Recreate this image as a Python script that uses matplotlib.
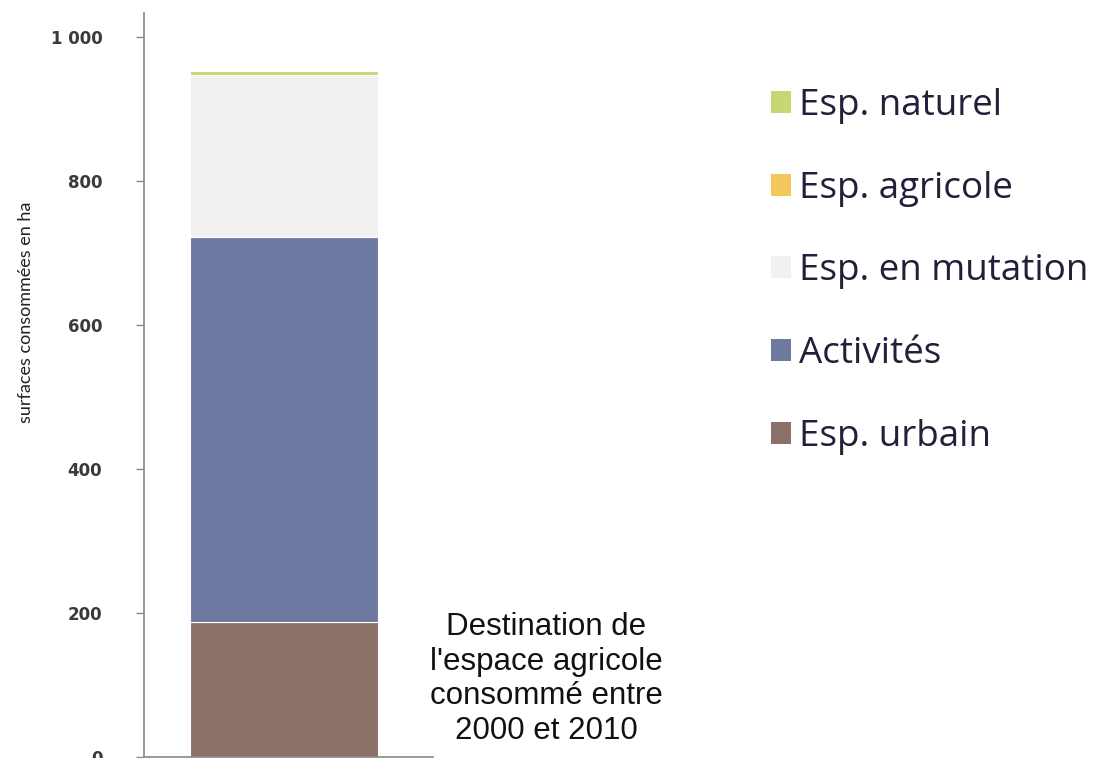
import numpy as np
import matplotlib.pyplot as plt
from matplotlib.patches import Patch

# surfaces agricoles consommées 2000-2010, par destination (ha)
categories = ["Esp. urbain", "Activités", "Esp. en mutation", "Esp. agricole", "Esp. naturel"]
surfaces = [188, 534, 225, 0, 6]
couleurs = ["#8b7268", "#6e79a1", "#f1f1f1", "#f2c75c", "#c6d774"]

yticks = [0, 200, 400, 600, 800, 1000]
ytick_labels = ["0", "200", "400", "600", "800", "1 000"]

fig = plt.figure(figsize=(11.08, 7.58), dpi=100)
ax = fig.add_axes([144/1108, 1/758, (433-144)/1108, (757-13)/758])

bas = 0
for cat, val, col in zip(categories, surfaces, couleurs):
    ax.bar(0.485, val, width=0.65, bottom=bas, color=col,
           edgecolor="white", linewidth=0.8, label=cat)
    bas += val

ax.set_xlim(0, 1)
ax.set_ylim(0, 1033)
ax.set_xticks([])
ax.set_yticks(yticks)
ax.set_yticklabels(ytick_labels, fontsize=12, fontweight="bold", color="#3a3a3a",
                   family="DejaVu Sans")
ax.tick_params(axis="y", length=6, width=1, color="#888888", pad=24)
for side in ["top", "right"]:
    ax.spines[side].set_visible(False)
for side in ["left", "bottom"]:
    ax.spines[side].set_color("#888888")
    ax.spines[side].set_linewidth(1.2)

fig.text(26/1108, 1 - 312/758, "surfaces consommées en ha", rotation=90,
         ha="center", va="center", fontsize=13, family="Lato", color="#222222")

fig.text(546/1108, 1 - 679/758,
         "Destination de\nl'espace agricole\nconsommé entre\n2000 et 2010",
         ha="center", va="center", fontsize=22.5, family="Liberation Sans",
         linespacing=1.19, color="#111111")

# légende dans l'ordre inverse de l'empilement
handles = [Patch(facecolor=c, edgecolor="none") for c in couleurs][::-1]
fig.legend(handles, categories[::-1], loc="upper left",
           bbox_to_anchor=(771/1108, 1 - 88/758), frameon=False,
           prop={"family": "Open Sans", "size": 26.5}, labelcolor="#20203a",
           handlelength=0.54, handleheight=0.54, handletextpad=0.22,
           labelspacing=1.27, borderpad=0, borderaxespad=0)

fig.savefig("out.png", dpi=100, facecolor="white")
